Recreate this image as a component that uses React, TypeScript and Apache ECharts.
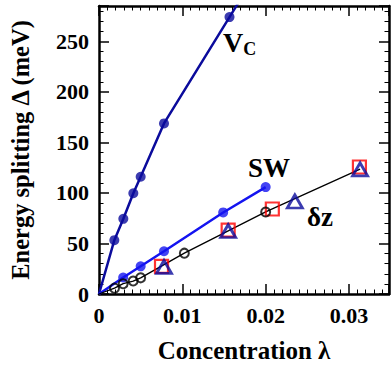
import React, { useEffect, useRef } from "react";
import * as echarts from "echarts";

// Vc (filled navy circles)
const VC_X = [0.00184, 0.00292, 0.00412, 0.005, 0.0078, 0.01566];
const VC_Y = [53.3, 74.4, 99.7, 116, 168.8, 274];
const VC_LINE_END = [0.0176, 300];

// SW (filled blue circles)
const SW_X = [0.0029, 0.005, 0.0078, 0.0149, 0.02];
const SW_Y = [16.3, 27.4, 42.3, 80.7, 105.8];

// δz (open black circles)
const DZ_X = [0.00186, 0.0029, 0.0041, 0.005, 0.01024, 0.02];
const DZ_Y = [5.8, 10.2, 12.8, 16, 40.4, 81.2];
const DZ_LINE_END = [0.03133, 123.5];

// open red squares
const SQ_X = [0.0075, 0.0155, 0.0208, 0.03125];
const SQ_Y = [27.4, 63.2, 84.1, 125.7];

// open navy triangles
const TR_X = [0.0078, 0.0155, 0.0235, 0.03133];
const TR_Y = [26.8, 62.3, 91.6, 123.3];

const X_MAX = 0.0348;
const Y_MAX = 285;

const FONT = "Liberation Serif";
const NAVY = "#0b0b9c";
const BLUE = "#1414f0";

const pts = (xs: number[], ys: number[]) => xs.map((x, i) => [x, ys[i]]);

export default function App() {
  const ref = useRef<HTMLDivElement>(null);
  useEffect(() => {
    document.body.style.margin = "0";
    const chart = echarts.init(ref.current!, null, { renderer: "svg" });
    const labelStyle = {
      color: "#000",
      fontFamily: FONT,
      fontWeight: "bold" as const,
      fontSize: 22,
    };
    const axisLine = { show: true, onZero: false, lineStyle: { color: "#000", width: 2.5 } };
    const tick = { show: true, inside: true, length: 10, lineStyle: { color: "#000", width: 1.5 } };
    const minor = (n: number) => ({
      show: true,
      splitNumber: n,
      length: 4.5,
      lineStyle: { color: "#000", width: 1 },
    });
    chart.setOption({
      animation: false,
      backgroundColor: "#fff",
      grid: { left: 99, right: 2, top: 6, bottom: 69 },
      xAxis: [
        {
          type: "value",
          position: "bottom",
          min: 0,
          max: X_MAX,
          interval: 0.01,
          axisLine,
          axisTick: tick,
          minorTick: minor(10),
          splitLine: { show: false },
          axisLabel: {
            ...labelStyle,
            margin: 10,
            showMaxLabel: false,
            formatter: (v: number) => (v === 0 ? "0" : v.toFixed(2)),
          },
          name: "Concentration λ",
          nameLocation: "middle",
          nameGap: 44,
          nameTextStyle: { ...labelStyle, fontSize: 25 },
        },
        {
          type: "value",
          position: "top",
          min: 0,
          max: X_MAX,
          interval: 0.01,
          axisLine,
          axisTick: tick,
          minorTick: minor(10),
          splitLine: { show: false },
          axisLabel: { show: false },
        },
      ],
      yAxis: [
        {
          type: "value",
          position: "left",
          min: 0,
          max: Y_MAX,
          interval: 50,
          axisLine,
          axisTick: tick,
          minorTick: minor(5),
          splitLine: { show: false },
          axisLabel: { ...labelStyle, margin: 10, showMaxLabel: false },
          name: "Energy splitting Δ (meV)",
          nameLocation: "middle",
          nameGap: 66,
          nameRotate: 90,
          nameTextStyle: { ...labelStyle, fontSize: 24.5 },
        },
        {
          type: "value",
          position: "right",
          min: 0,
          max: Y_MAX,
          interval: 50,
          axisLine,
          axisTick: tick,
          minorTick: minor(5),
          splitLine: { show: false },
          axisLabel: { show: false },
        },
      ],
      series: [
        {
          type: "line",
          data: [[0, 0], ...pts(VC_X, VC_Y), VC_LINE_END],
          showSymbol: false,
          lineStyle: { color: NAVY, width: 2.5 },
          clip: true,
          z: 2,
        },
        {
          type: "line",
          data: [[0, 0], ...pts(SW_X, SW_Y)],
          showSymbol: false,
          lineStyle: { color: BLUE, width: 2.5 },
          clip: true,
          z: 2,
        },
        {
          type: "line",
          data: [[0, 0], ...pts(DZ_X, DZ_Y), DZ_LINE_END],
          showSymbol: false,
          lineStyle: { color: "#000", width: 1.3 },
          clip: true,
          z: 2,
        },
        {
          type: "scatter",
          data: pts(VC_X, VC_Y),
          symbol: "circle",
          symbolSize: 10,
          itemStyle: { color: NAVY },
          z: 3,
        },
        {
          type: "scatter",
          data: pts(SW_X, SW_Y),
          symbol: "circle",
          symbolSize: 10,
          itemStyle: { color: BLUE },
          z: 3,
        },
        {
          type: "scatter",
          data: pts(SQ_X, SQ_Y),
          symbol: "rect",
          symbolSize: 13,
          itemStyle: { color: "rgba(0,0,0,0)", borderColor: "#ff0000", borderWidth: 2.2 },
          z: 4,
        },
        {
          type: "scatter",
          data: pts(TR_X, TR_Y),
          symbol: "triangle",
          symbolSize: [15, 13],
          itemStyle: { color: "rgba(0,0,0,0)", borderColor: NAVY, borderWidth: 2.8 },
          z: 5,
        },
        {
          type: "scatter",
          data: pts(DZ_X, DZ_Y),
          symbol: "circle",
          symbolSize: 9,
          itemStyle: { color: "rgba(0,0,0,0)", borderColor: "#000", borderWidth: 2 },
          z: 6,
        },
      ],
      graphic: [
        {
          type: "text",
          left: 223,
          top: 28,
          style: {
            text: "{v|V}{c|C}",
            rich: {
              v: { fontFamily: FONT, fontWeight: "bold", fontSize: 28, fill: "#000" },
              c: {
                fontFamily: FONT,
                fontWeight: "bold",
                fontSize: 18,
                fill: "#000",
                padding: [14, 0, 0, 0],
              },
            },
          },
        },
        {
          type: "text",
          left: 248,
          top: 154,
          style: { text: "SW", fontFamily: FONT, fontWeight: "bold", fontSize: 27, fill: "#000" },
        },
        {
          type: "text",
          left: 307,
          top: 203,
          style: { text: "δz", fontFamily: FONT, fontWeight: "bold", fontSize: 27, fill: "#000" },
        },
      ],
    });
    return () => chart.dispose();
  }, []);
  return <div ref={ref} style={{ width: 391, height: 368 }} />;
}
